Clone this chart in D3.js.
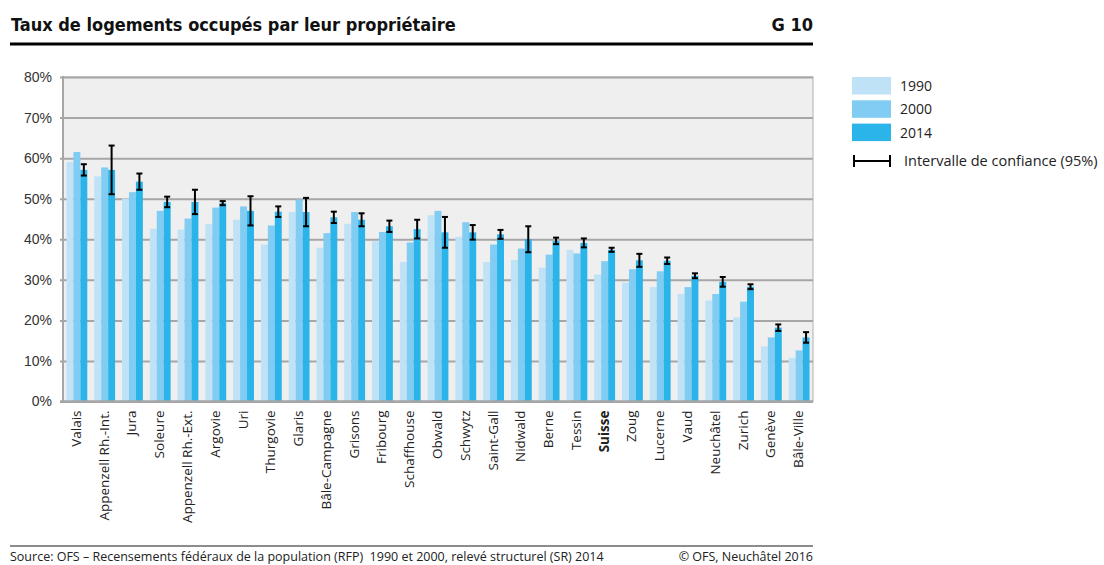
<!DOCTYPE html>
<html>
<head>
<meta charset="utf-8">
<script src="https://cdn.jsdelivr.net/npm/d3@7"></script>
<style>
  html, body { margin: 0; padding: 0; background: #fff; }
  svg { display: block; font-family: "Open Sans", sans-serif; }
  .titre { font-family: "DejaVu Sans", sans-serif; font-stretch: condensed; font-weight: bold; font-size: 18px; }
</style>
</head>
<body>
<svg id="chart" width="1104" height="565"></svg>
<script>
// Cantons, triés selon le taux 2014
const cantons = ["Valais", "Appenzell Rh.-Int.", "Jura", "Soleure", "Appenzell Rh.-Ext.",
  "Argovie", "Uri", "Thurgovie", "Glaris", "Bâle-Campagne", "Grisons", "Fribourg",
  "Schaffhouse", "Obwald", "Schwytz", "Saint-Gall", "Nidwald", "Berne", "Tessin",
  "Suisse", "Zoug", "Lucerne", "Vaud", "Neuchâtel", "Zurich", "Genève", "Bâle-Ville"];

const annees = ["1990", "2000", "2014"];

const val1990 = [59.0, 55.5, 50.0, 42.6, 42.4, 43.8, 44.8, 38.7, 46.7, 37.9, 43.8, 39.5,
  34.4, 45.9, 40.6, 34.4, 34.9, 33.0, 37.4, 31.3, 29.3, 28.2, 26.5, 24.9, 20.7, 13.6, 10.8];
const val2000 = [61.5, 57.7, 51.6, 47.0, 45.1, 47.8, 48.1, 43.4, 49.8, 41.5, 46.7, 41.8,
  39.2, 47.0, 44.2, 38.7, 37.7, 36.2, 36.5, 34.6, 32.6, 32.1, 28.2, 26.5, 24.6, 15.8, 12.6];
const val2014 = [57.1, 57.1, 54.2, 49.2, 49.2, 48.9, 47.0, 46.8, 46.7, 45.4, 44.8, 43.2,
  42.5, 41.7, 41.7, 41.2, 40.0, 39.6, 39.1, 37.4, 34.8, 34.7, 31.0, 29.5, 28.3, 18.2, 15.8];
// demi-largeur de l'intervalle de confiance 95 % (2014)
const ic2014 = [1.4, 6.0, 2.0, 1.3, 3.0, 0.5, 3.6, 1.3, 3.5, 1.4, 1.6, 1.4,
  2.3, 3.8, 1.8, 1.1, 3.2, 0.8, 1.1, 0.5, 1.6, 0.8, 0.6, 1.2, 0.6, 0.8, 1.3];

const yTicks = [0, 10, 20, 30, 40, 50, 60, 70, 80];
const couleurs = ["#bfe2f7", "#80ccf2", "#2bb4e9"];

const svg = d3.select("#chart");

const plot = { x0: 63, x1: 813, y0: 77, y1: 401.5 };

const x = d3.scaleBand()
  .domain(cantons)
  .range([plot.x0, plot.x1])
  .paddingInner(0.25)
  .paddingOuter(0.125);

const xs = d3.scaleBand()
  .domain(annees)
  .range([0, x.bandwidth()]);

const y = d3.scaleLinear()
  .domain([0, 80])
  .range([plot.y1, plot.y0]);

/* ── TITRE ─────────────────────────────────────── */

svg.append("text")
  .attr("class", "titre")
  .attr("x", 11).attr("y", 31)
  .attr("fill", "#111")
  .text("Taux de logements occupés par leur propriétaire");

svg.append("text")
  .attr("class", "titre")
  .attr("x", 813).attr("y", 31)
  .attr("text-anchor", "end")
  .attr("fill", "#111")
  .text("G 10");

svg.append("line")
  .attr("x1", 10).attr("x2", 813)
  .attr("y1", 44).attr("y2", 44)
  .attr("stroke", "#000").attr("stroke-width", 3);

/* ── FOND + GRILLE ─────────────────────────────── */

svg.append("rect")
  .attr("x", plot.x0).attr("y", plot.y0)
  .attr("width", plot.x1 - plot.x0).attr("height", plot.y1 - plot.y0)
  .attr("fill", "#efefef")
  .attr("stroke", "#b0b0b0").attr("stroke-width", 1);

const yAxis = d3.axisLeft(y)
  .tickValues(yTicks)
  .tickSize(0)
  .tickFormat(d => d + "%");

const gy = svg.append("g")
  .attr("transform", `translate(${plot.x0 - 3},0)`)
  .call(yAxis);
gy.select(".domain").remove();
gy.selectAll(".tick line")
  .attr("x1", 0)
  .attr("x2", plot.x1 - plot.x0 + 3)
  .attr("stroke", "#a6a6a6").attr("stroke-width", 2);
gy.selectAll(".tick text")
  .attr("x", -8)
  .style("font-size", "14px")
  .attr("fill", "#333");

svg.append("line")
  .attr("x1", plot.x0).attr("x2", plot.x0)
  .attr("y1", plot.y0 - 1).attr("y2", plot.y1 + 1)
  .attr("stroke", "#a6a6a6").attr("stroke-width", 2);

/* ── BARRES ────────────────────────────────────── */

const series = [val1990, val2000, val2014];

series.forEach((vals, i) => {
  svg.append("g")
    .selectAll("rect")
    .data(vals)
    .join("rect")
    .attr("x", (d, j) => x(cantons[j]) + xs(annees[i]))
    .attr("y", d => y(d))
    .attr("width", xs.bandwidth())
    .attr("height", d => y(0) - y(d))
    .attr("fill", couleurs[i]);
});

svg.append("line")
  .attr("x1", plot.x0 - 3).attr("x2", plot.x1)
  .attr("y1", plot.y1).attr("y2", plot.y1)
  .attr("stroke", "#a6a6a6").attr("stroke-width", 2.5);

/* ── INTERVALLES DE CONFIANCE ──────────────────── */

const gErr = svg.append("g")
  .attr("stroke", "#000").attr("stroke-width", 2);

val2014.forEach((v, j) => {
  const cx = x(cantons[j]) + xs("2014") + xs.bandwidth() / 2;
  const lo = y(v - ic2014[j]), hi = y(v + ic2014[j]);
  gErr.append("line").attr("x1", cx).attr("x2", cx).attr("y1", lo).attr("y2", hi);
  gErr.append("line").attr("x1", cx - 3).attr("x2", cx + 3).attr("y1", lo).attr("y2", lo);
  gErr.append("line").attr("x1", cx - 3).attr("x2", cx + 3).attr("y1", hi).attr("y2", hi);
});

/* ── ÉTIQUETTES X ──────────────────────────────── */

svg.append("g")
  .selectAll("text")
  .data(cantons)
  .join("text")
  .attr("transform", d => `translate(${x(d) + x.bandwidth() / 2 + 4},${plot.y1 + 9}) rotate(-90)`)
  .attr("text-anchor", "end")
  .style("font-size", "13.5px")
  .style("font-weight", d => d === "Suisse" ? "bold" : "normal")
  .attr("fill", "#222")
  .text(d => d);

/* ── LÉGENDE ───────────────────────────────────── */

const leg = svg.append("g").attr("transform", "translate(852,77)");

annees.forEach((a, i) => {
  leg.append("rect")
    .attr("x", 0).attr("y", i * 23.3)
    .attr("width", 39).attr("height", 17.5)
    .attr("fill", couleurs[i]);
  leg.append("text")
    .attr("x", 48).attr("y", i * 23.3 + 14)
    .style("font-size", "14px")
    .attr("fill", "#222")
    .text(a);
});

const ly = 84;
leg.append("line").attr("x1", 2).attr("x2", 38).attr("y1", ly).attr("y2", ly)
  .attr("stroke", "#000").attr("stroke-width", 2);
leg.append("line").attr("x1", 2).attr("x2", 2).attr("y1", ly - 6).attr("y2", ly + 6)
  .attr("stroke", "#000").attr("stroke-width", 2);
leg.append("line").attr("x1", 38).attr("x2", 38).attr("y1", ly - 6).attr("y2", ly + 6)
  .attr("stroke", "#000").attr("stroke-width", 2);
leg.append("text")
  .attr("x", 52).attr("y", ly + 5)
  .style("font-size", "14.5px")
  .attr("fill", "#222")
  .text("Intervalle de confiance (95%)");

/* ── PIED ──────────────────────────────────────── */

svg.append("line")
  .attr("x1", 10).attr("x2", 813)
  .attr("y1", 546).attr("y2", 546)
  .attr("stroke", "#666").attr("stroke-width", 1.5);

svg.append("text")
  .attr("x", 10).attr("y", 561)
  .style("font-size", "12.5px")
  .style("white-space", "pre")
  .attr("fill", "#222")
  .text("Source: OFS – Recensements fédéraux de la population (RFP)  1990 et 2000, relevé structurel (SR) 2014");

svg.append("text")
  .attr("x", 813).attr("y", 561)
  .attr("text-anchor", "end")
  .style("font-size", "12.5px")
  .attr("fill", "#222")
  .text("© OFS, Neuchâtel 2016");
</script>
</body>
</html>
